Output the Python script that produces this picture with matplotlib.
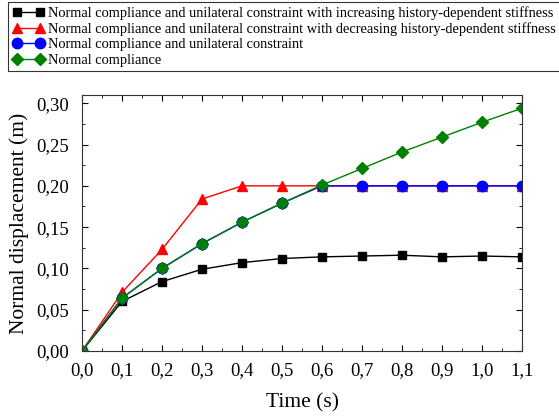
import numpy as np
import matplotlib.pyplot as plt
from matplotlib.ticker import MultipleLocator

plt.rcParams['font.family'] = ['Liberation Serif', 'DejaVu Serif']

# 数据
time = [0.0, 0.1, 0.2, 0.3, 0.4, 0.5, 0.6, 0.7, 0.8, 0.9, 1.0, 1.1]
increasing = [0.0, 0.060, 0.084, 0.099, 0.107, 0.112, 0.114, 0.115, 0.116, 0.114, 0.115, 0.114]
decreasing = [0.0, 0.071, 0.123, 0.184, 0.200, 0.200, 0.200, 0.200, 0.200, 0.200, 0.200, 0.200]
unilateral = [0.0, 0.064, 0.100, 0.130, 0.156, 0.179, 0.200, 0.200, 0.200, 0.200, 0.200, 0.200]
compliance = [0.0, 0.064, 0.100, 0.130, 0.156, 0.179, 0.201, 0.221, 0.241, 0.259, 0.277, 0.294]

x_ticks = [0.0, 0.1, 0.2, 0.3, 0.4, 0.5, 0.6, 0.7, 0.8, 0.9, 1.0, 1.1]
x_labels = ['0,0', '0,1', '0,2', '0,3', '0,4', '0,5', '0,6', '0,7', '0,8', '0,9', '1,0', '1,1']
y_ticks = [0.0, 0.05, 0.10, 0.15, 0.20, 0.25, 0.30]
y_labels = ['0,00', '0,05', '0,10', '0,15', '0,20', '0,25', '0,30']

labels = [
    'Normal compliance and unilateral constraint with increasing history-dependent stiffness',
    'Normal compliance and unilateral constraint with decreasing history-dependent stiffness',
    'Normal compliance and unilateral constraint',
    'Normal compliance',
]

fig = plt.figure(figsize=(5.59, 4.16), dpi=100)
ax = fig.add_axes([82 / 559, 1 - 351 / 416, 440 / 559, 256 / 416])

ax.plot(time, increasing, color='black', marker='s', markersize=6, linewidth=1, label=labels[0])
ax.plot(time, decreasing, color='red', marker='^', markersize=7, linewidth=1, label=labels[1])
ax.plot(time, unilateral, color='blue', marker='o', markersize=7.5, linewidth=1, label=labels[2])
ax.plot(time, compliance, color='green', marker='D', markersize=6, linewidth=1, label=labels[3])

ax.set_xlim(0, 1.1)
ax.set_ylim(0, 0.31)
ax.set_xticks(x_ticks)
ax.set_xticklabels(x_labels)
ax.set_yticks(y_ticks)
ax.set_yticklabels(y_labels)
ax.xaxis.set_minor_locator(MultipleLocator(0.05))
ax.yaxis.set_minor_locator(MultipleLocator(0.025))
ax.tick_params(which='both', direction='in', top=True, right=True, labelsize=13.5)
ax.tick_params(which='major', length=4)
ax.tick_params(which='minor', length=2)
ax.tick_params(axis='x', which='major', pad=8)
ax.tick_params(axis='y', which='major', pad=9.5)
for s in ax.spines.values():
    s.set_color('#333333')

ax.set_xlabel('Time (s)', fontsize=15.5, labelpad=10)
ax.set_ylabel('Normal displacement (m)', fontsize=15.5, labelpad=5)

leg = fig.legend(loc='upper left', bbox_to_anchor=(8 / 559, 1 - 2 / 416), numpoints=2,
                 fontsize=10.4, frameon=True, fancybox=False, edgecolor='black',
                 borderaxespad=0, handlelength=2.2, handletextpad=0.3, labelspacing=0.15,
                 borderpad=0.3)
leg.get_frame().set_linewidth(0.8)

fig.savefig('out.png', dpi=100)
